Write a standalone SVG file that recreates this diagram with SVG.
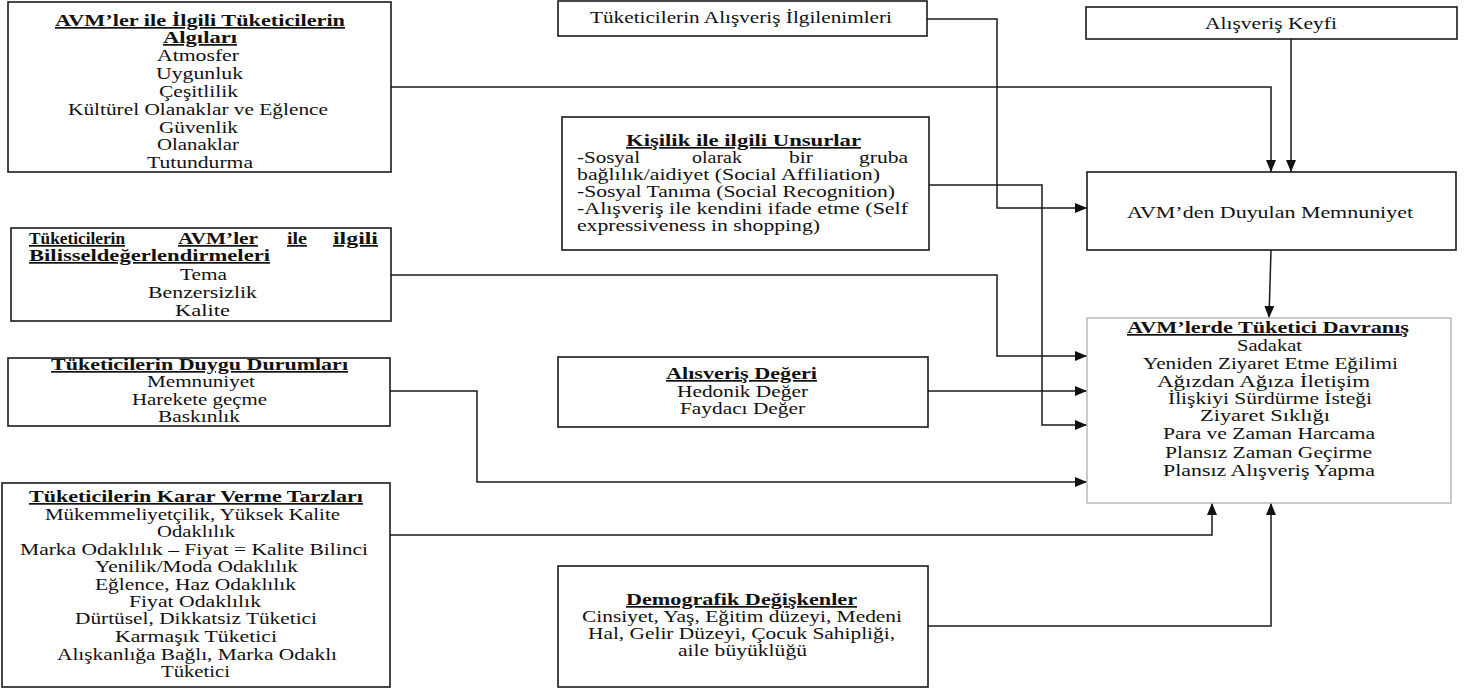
<svg xmlns="http://www.w3.org/2000/svg" width="1468" height="693" viewBox="0 0 1468 693">
<defs>
<style>
.box{fill:#fff;stroke:#1a1a1a;stroke-width:1.6}
.box2{fill:#fff;stroke:#bdbdbd;stroke-width:1.6}
text{font-family:'Liberation Serif','Times New Roman',serif;font-size:17px;fill:#111}
.h{font-weight:bold;text-decoration:underline}
.c{fill:none;stroke:#1a1a1a;stroke-width:1.5}
</style>
<marker id="arr" markerUnits="userSpaceOnUse" markerWidth="12" markerHeight="10" refX="12" refY="5" orient="auto">
<path d="M0,0 L12,5 L0,10 z" fill="#111"/>
</marker>
</defs>
<rect width="1468" height="693" fill="#fff"/>

<g id="connectors">
<path class="c" d="M391,87 H1271 V172" marker-end="url(#arr)"/>
<path class="c" d="M927,19 H997 V208 H1087" marker-end="url(#arr)"/>
<path class="c" d="M1291,39 V172" marker-end="url(#arr)"/>
<path class="c" d="M929,185 H1042 V425 H1087" marker-end="url(#arr)"/>
<path class="c" d="M391,275 H997 V356 H1087" marker-end="url(#arr)"/>
<path class="c" d="M928,391 H1087" marker-end="url(#arr)"/>
<path class="c" d="M390,391 H477 V482 H1087" marker-end="url(#arr)"/>
<path class="c" d="M1271,250 L1269,318" marker-end="url(#arr)"/>
<path class="c" d="M390,535 H1212 V503" marker-end="url(#arr)"/>
<path class="c" d="M928,626 H1271 V503" marker-end="url(#arr)"/>
</g>

<g id="algilar">
<rect class="box" x="8" y="2" width="383" height="170"/>
<text class="h" x="55" y="26" textLength="290" lengthAdjust="spacingAndGlyphs">AVM’ler  ile İlgili Tüketicilerin</text>
<text class="h" x="163" y="43" textLength="74" lengthAdjust="spacingAndGlyphs">Algıları</text>
<text x="157" y="61" textLength="82" lengthAdjust="spacingAndGlyphs">Atmosfer</text>
<text x="156" y="79" textLength="87" lengthAdjust="spacingAndGlyphs">Uygunluk</text>
<text x="159" y="97" textLength="79" lengthAdjust="spacingAndGlyphs">Çeşitlilik</text>
<text x="68" y="115" textLength="260" lengthAdjust="spacingAndGlyphs">Kültürel Olanaklar  ve  Eğlence</text>
<text x="159" y="133" textLength="79" lengthAdjust="spacingAndGlyphs">Güvenlik</text>
<text x="157" y="150" textLength="82" lengthAdjust="spacingAndGlyphs">Olanaklar</text>
<text x="147" y="168" textLength="106" lengthAdjust="spacingAndGlyphs">Tutundurma</text>
</g>

<g id="ilgilenim">
<rect class="box" x="558" y="1" width="369" height="35"/>
<text x="590" y="23" textLength="302" lengthAdjust="spacingAndGlyphs">Tüketicilerin  Alışveriş  İlgilenimleri</text>
</g>

<g id="keyif">
<rect class="box" x="1086" y="7" width="371" height="32"/>
<text x="1205" y="29" textLength="132" lengthAdjust="spacingAndGlyphs">Alışveriş Keyfi</text>
</g>

<g id="kisilik">
<rect class="box" x="562" y="117" width="367" height="133"/>
<text class="h" x="626" y="146" textLength="235" lengthAdjust="spacingAndGlyphs">Kişilik ile ilgili  Unsurlar</text>
<text x="577" y="163" textLength="63" lengthAdjust="spacingAndGlyphs">-Sosyal</text>
<text x="692" y="163" textLength="50" lengthAdjust="spacingAndGlyphs">olarak</text>
<text x="789" y="163" textLength="24" lengthAdjust="spacingAndGlyphs">bir</text>
<text x="859" y="163" textLength="49" lengthAdjust="spacingAndGlyphs">gruba</text>
<text x="577" y="180" textLength="303" lengthAdjust="spacingAndGlyphs">bağlılık/aidiyet  (Social  Affiliation)</text>
<text x="577" y="197" textLength="318" lengthAdjust="spacingAndGlyphs">-Sosyal Tanıma (Social  Recognition)</text>
<text x="577" y="214" textLength="331" lengthAdjust="spacingAndGlyphs">-Alışveriş ile kendini ifade etme (Self</text>
<text x="577" y="231" textLength="243" lengthAdjust="spacingAndGlyphs">expressiveness in shopping)</text>
</g>

<g id="bilissel">
<rect class="box" x="11" y="228" width="380" height="93"/>
<text class="h" x="29" y="244" textLength="96" lengthAdjust="spacingAndGlyphs">Tüketicilerin</text>
<text class="h" x="178" y="244" textLength="80" lengthAdjust="spacingAndGlyphs">AVM’ler</text>
<text class="h" x="287" y="244" textLength="20" lengthAdjust="spacingAndGlyphs">ile</text>
<text class="h" x="333" y="244" textLength="45" lengthAdjust="spacingAndGlyphs">ilgili</text>
<text class="h" x="29" y="261" textLength="241" lengthAdjust="spacingAndGlyphs">Bilisseldeğerlendirmeleri</text>
<text x="180" y="280" textLength="47" lengthAdjust="spacingAndGlyphs">Tema</text>
<text x="148" y="298" textLength="109" lengthAdjust="spacingAndGlyphs">Benzersizlik</text>
<text x="175" y="316" textLength="55" lengthAdjust="spacingAndGlyphs">Kalite</text>
</g>

<g id="duygu">
<rect class="box" x="8" y="358" width="382" height="68"/>
<text class="h" x="51" y="370" textLength="297" lengthAdjust="spacingAndGlyphs">Tüketicilerin Duygu Durumları</text>
<text x="147" y="387" textLength="108" lengthAdjust="spacingAndGlyphs">Memnuniyet</text>
<text x="132" y="405" textLength="135" lengthAdjust="spacingAndGlyphs">Harekete geçme</text>
<text x="158" y="422" textLength="82" lengthAdjust="spacingAndGlyphs">Baskınlık</text>
</g>

<g id="deger">
<rect class="box" x="558" y="357" width="370" height="70"/>
<text class="h" x="666" y="379" textLength="151" lengthAdjust="spacingAndGlyphs">Alısveriş Değeri</text>
<text x="677" y="397" textLength="131" lengthAdjust="spacingAndGlyphs">Hedonik Değer</text>
<text x="680" y="414" textLength="125" lengthAdjust="spacingAndGlyphs">Faydacı Değer</text>
</g>

<g id="memnuniyet">
<rect class="box" x="1087" y="172" width="369" height="78"/>
<text x="1127" y="218" textLength="286" lengthAdjust="spacingAndGlyphs">AVM’den Duyulan Memnuniyet</text>
</g>

<g id="davranis">
<rect class="box2" x="1087" y="318" width="364" height="185"/>
<text class="h" x="1127" y="333" textLength="282" lengthAdjust="spacingAndGlyphs">AVM’lerde  Tüketici Davranış</text>
<text x="1237" y="351" textLength="65" lengthAdjust="spacingAndGlyphs">Sadakat</text>
<text x="1143" y="369" textLength="255" lengthAdjust="spacingAndGlyphs">Yeniden  Ziyaret Etme Eğilimi</text>
<text x="1157" y="387" textLength="213" lengthAdjust="spacingAndGlyphs">Ağızdan  Ağıza İletişim</text>
<text x="1168" y="404" textLength="204" lengthAdjust="spacingAndGlyphs">İlişkiyi Sürdürme  İsteği</text>
<text x="1200" y="421" textLength="130" lengthAdjust="spacingAndGlyphs">Ziyaret Sıklığı</text>
<text x="1163" y="439" textLength="212" lengthAdjust="spacingAndGlyphs">Para ve  Zaman Harcama</text>
<text x="1165" y="458" textLength="207" lengthAdjust="spacingAndGlyphs">Plansız Zaman Geçirme</text>
<text x="1163" y="476" textLength="212" lengthAdjust="spacingAndGlyphs">Plansız Alışveriş  Yapma</text>
</g>

<g id="karar">
<rect class="box" x="2" y="483" width="388" height="204"/>
<text class="h" x="29" y="502" textLength="334" lengthAdjust="spacingAndGlyphs">Tüketicilerin Karar Verme Tarzları</text>
<text x="45" y="520" textLength="295" lengthAdjust="spacingAndGlyphs">Mükemmeliyetçilik,  Yüksek Kalite</text>
<text x="157" y="537" textLength="78" lengthAdjust="spacingAndGlyphs">Odaklılık</text>
<text x="20" y="555" textLength="348" lengthAdjust="spacingAndGlyphs">Marka Odaklılık  – Fiyat = Kalite Bilinci</text>
<text x="95" y="572" textLength="203" lengthAdjust="spacingAndGlyphs">Yenilik/Moda Odaklılık</text>
<text x="95" y="590" textLength="201" lengthAdjust="spacingAndGlyphs">Eğlence,  Haz Odaklılık</text>
<text x="129" y="607" textLength="132" lengthAdjust="spacingAndGlyphs">Fiyat Odaklılık</text>
<text x="75" y="624" textLength="242" lengthAdjust="spacingAndGlyphs">Dürtüsel, Dikkatsiz Tüketici</text>
<text x="115" y="642" textLength="162" lengthAdjust="spacingAndGlyphs">Karmaşık  Tüketici</text>
<text x="57" y="660" textLength="280" lengthAdjust="spacingAndGlyphs">Alışkanlığa  Bağlı,  Marka Odaklı</text>
<text x="161" y="677" textLength="69" lengthAdjust="spacingAndGlyphs">Tüketici</text>
</g>

<g id="demografik">
<rect class="box" x="558" y="566" width="370" height="121"/>
<text class="h" x="626" y="605" textLength="231" lengthAdjust="spacingAndGlyphs">Demografik Değişkenler</text>
<text x="582" y="622" textLength="320" lengthAdjust="spacingAndGlyphs">Cinsiyet, Yaş, Eğitim  düzeyi, Medeni</text>
<text x="588" y="639" textLength="307" lengthAdjust="spacingAndGlyphs">Hal, Gelir Düzeyi, Çocuk Sahipliği,</text>
<text x="678" y="656" textLength="129" lengthAdjust="spacingAndGlyphs">aile büyüklüğü</text>
</g>
</svg>
